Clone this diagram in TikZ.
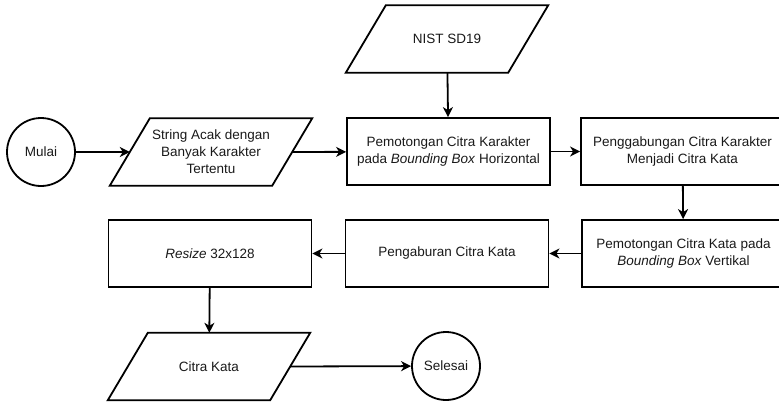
\documentclass[tikz,border=0pt]{standalone}
\usepackage{fontspec}
\setmainfont{Liberation Sans}
\usetikzlibrary{calc,arrows.meta}

\begin{document}
\begin{tikzpicture}[x=1pt,y=-1pt,
  every node/.style={font=\fontsize{13.5}{17}\selectfont, text=black!90, align=center, inner sep=0pt},
  proc/.style={draw, line width=1.8pt, minimum width=203pt, minimum height=67pt},
  io/.style={minimum width=202pt, minimum height=67pt},
  term/.style={draw, circle, line width=1.8pt, minimum size=68pt},
  flow/.style={line width=1.8pt, -{Stealth[length=10pt,width=10pt,inset=3pt]}}
]
\useasboundingbox (0,0) rectangle (779,402);

% input/output parallelogram drawn around a plain node
\newcommand\ioshape[1]{%
  \draw[line width=1.8pt, line join=miter]
    ($(#1.north west)+(40,0)$) -- (#1.north east) --
    ($(#1.south east)+(-40,0)$) -- (#1.south west) -- cycle;
  \coordinate (#1-l) at ($(#1.west)+(20,0)$);
  \coordinate (#1-r) at ($(#1.east)+(-20,0)$);}

% terminals
\node[term] (mulai) at (41,152) {Mulai};
\node[term] (selesai) at (446,366) {Selesai};

% data nodes
\node[io] (nist) at (447,39) {NIST SD19};
\ioshape{nist}
\node[io] (str) at (211,152) {String Acak dengan\\Banyak Karakter\\Tertentu};
\ioshape{str}
\node[io] (kata) at (209,366.5) {Citra Kata};
\ioshape{kata}

% processing steps
\node[proc] (potong) at (448.5,151.5) {Pemotongan Citra Karakter\\pada \textit{Bounding Box} Horizontal};
\node[proc] (gabung) at (682.5,151.5) {Penggabungan Citra Karakter\\Menjadi Citra Kata};
\node[proc] (potkata) at (683.5,253.5) {Pemotongan Citra Kata pada\\\textit{Bounding Box} Vertikal};
\node[proc] (kabur) at (447,253.5) {Pengaburan Citra Kata};
\node[proc] (resize) at (210,253.5) {\textit{Resize} 32x128};

% connectors
\draw[flow] (mulai) -- (str-l);
\draw[flow] (str-r) -- (potong);
\draw[flow] (nist) -- (potong);
\draw[flow] (potong) -- (gabung);
\draw[flow] (gabung) -- (potkata);
\draw[flow] (potkata) -- (kabur);
\draw[flow] (kabur) -- (resize);
\draw[flow] (resize) -- (kata);
\draw[flow] (kata-r) -- (selesai);
\end{tikzpicture}
\end{document}
